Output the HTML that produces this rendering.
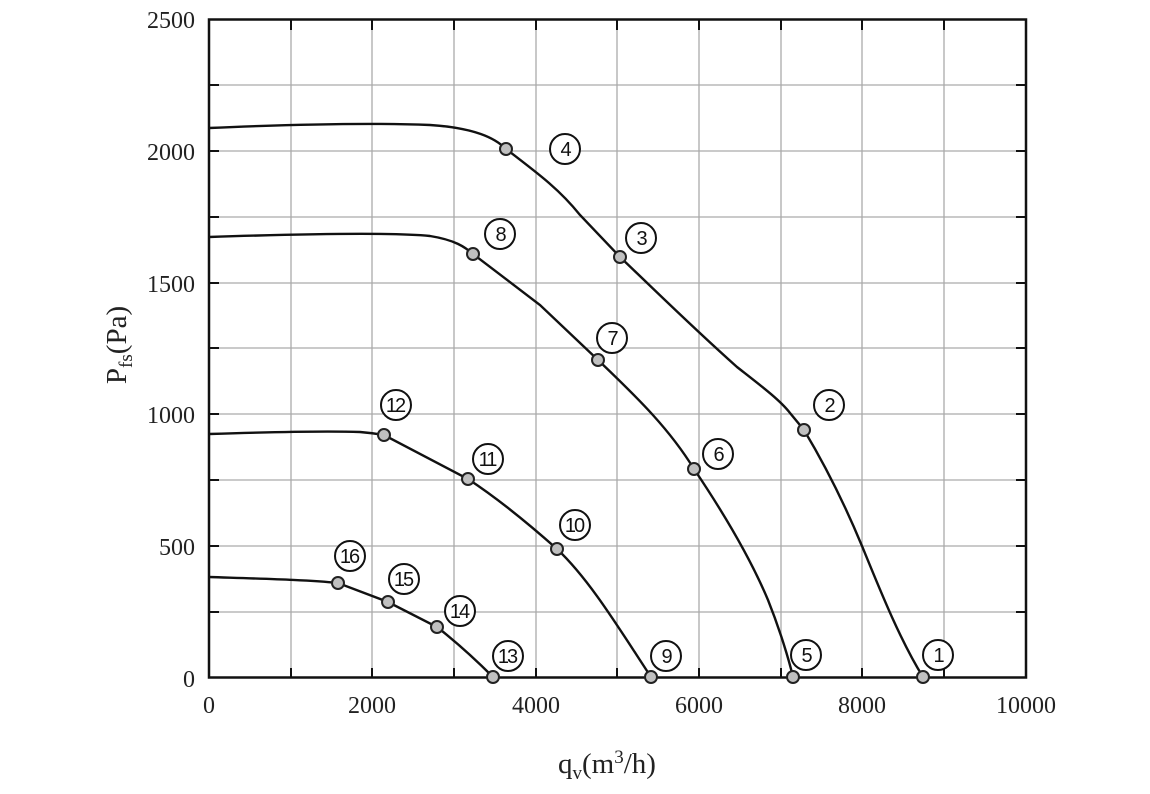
<!DOCTYPE html>
<html><head><style>body{margin:0;background:#fff}</style></head><body>
<svg width="1150" height="789" xmlns="http://www.w3.org/2000/svg" font-family="Liberation Serif, serif">
<rect width="1150" height="789" fill="#fff"/>
<g stroke="#aaa" stroke-width="1.3">
<line x1="291" y1="19" x2="291" y2="678"/><line x1="372" y1="19" x2="372" y2="678"/><line x1="454" y1="19" x2="454" y2="678"/><line x1="536" y1="19" x2="536" y2="678"/><line x1="617" y1="19" x2="617" y2="678"/><line x1="699" y1="19" x2="699" y2="678"/><line x1="781" y1="19" x2="781" y2="678"/><line x1="862" y1="19" x2="862" y2="678"/><line x1="944" y1="19" x2="944" y2="678"/>
<line x1="209" y1="85" x2="1026" y2="85"/><line x1="209" y1="151" x2="1026" y2="151"/><line x1="209" y1="217" x2="1026" y2="217"/><line x1="209" y1="283" x2="1026" y2="283"/><line x1="209" y1="348" x2="1026" y2="348"/><line x1="209" y1="414" x2="1026" y2="414"/><line x1="209" y1="480" x2="1026" y2="480"/><line x1="209" y1="546" x2="1026" y2="546"/><line x1="209" y1="612" x2="1026" y2="612"/>
</g>
<rect x="209" y="19.5" width="817" height="658" fill="none" stroke="#111" stroke-width="2.5"/>
<g stroke="#111" stroke-width="2">
<path d="M291 678v-10M372 678v-10M454 678v-10M536 678v-10M617 678v-10M699 678v-10M781 678v-10M862 678v-10M944 678v-10M291 20v10M372 20v10M454 20v10M536 20v10M617 20v10M699 20v10M781 20v10M862 20v10M944 20v10M209 85h10M209 151h10M209 217h10M209 283h10M209 348h10M209 414h10M209 480h10M209 546h10M209 612h10M1026 85h-10M1026 151h-10M1026 217h-10M1026 283h-10M1026 348h-10M1026 414h-10M1026 480h-10M1026 546h-10M1026 612h-10"/>
</g>
<g fill="none" stroke="#111" stroke-width="2.4">
<path d="M209 128 C300 124 380 123 430 125 C475 128 495 138 506 149 C540 175 560 190 580 215 L620 257 C660 295 690 325 737 367 C760 385 780 400 790 413 L804 430 C825 465 845 505 862 546 C880 590 900 640 923 677"/>
<path d="M209 237 C300 234 390 232 430 236 C455 240 465 247 473 254 L540 305 L598 360 C640 400 670 430 694 469 C725 515 752 562 768 600 C780 630 789 660 793 677"/>
<path d="M209 434 C270 432 330 431 360 432 C372 433 378 434 384 435 L468 479 C500 500 530 525 557 549 C590 580 620 630 651 677"/>
<path d="M209 577 C270 579 310 580 338 583 L388 602 L437 627 C460 645 478 662 493 677"/>
</g>
<g fill="#c0c0c0" stroke="#222" stroke-width="2">
<circle cx="506" cy="149" r="6"/><circle cx="620" cy="257" r="6"/><circle cx="804" cy="430" r="6"/><circle cx="923" cy="677" r="6"/>
<circle cx="473" cy="254" r="6"/><circle cx="598" cy="360" r="6"/><circle cx="694" cy="469" r="6"/><circle cx="793" cy="677" r="6"/>
<circle cx="384" cy="435" r="6"/><circle cx="468" cy="479" r="6"/><circle cx="557" cy="549" r="6"/><circle cx="651" cy="677" r="6"/>
<circle cx="338" cy="583" r="6"/><circle cx="388" cy="602" r="6"/><circle cx="437" cy="627" r="6"/><circle cx="493" cy="677" r="6"/>
</g>
<g fill="#fff" stroke="#111" stroke-width="2">
<circle cx="565" cy="149" r="15"/><circle cx="641" cy="238" r="15"/><circle cx="829" cy="405" r="15"/><circle cx="938" cy="655" r="15"/>
<circle cx="500" cy="234" r="15"/><circle cx="612" cy="338" r="15"/><circle cx="718" cy="454" r="15"/><circle cx="806" cy="655" r="15"/>
<circle cx="396" cy="405" r="15"/><circle cx="488" cy="459" r="15"/><circle cx="575" cy="525" r="15"/><circle cx="666" cy="656" r="15"/>
<circle cx="350" cy="556" r="15"/><circle cx="404" cy="579" r="15"/><circle cx="460" cy="611" r="15"/><circle cx="508" cy="656" r="15"/>
</g>
<g font-family="Liberation Sans, sans-serif" font-size="20" text-anchor="middle" fill="#111" letter-spacing="-2">
<text x="565" y="156">4</text><text x="641" y="245">3</text><text x="829" y="412">2</text><text x="938" y="662">1</text>
<text x="500" y="241">8</text><text x="612" y="345">7</text><text x="718" y="461">6</text><text x="806" y="662">5</text>
<text x="395" y="412">12</text><text x="487" y="466">11</text><text x="574" y="532">10</text><text x="666" y="663">9</text>
<text x="349" y="563">16</text><text x="403" y="586">15</text><text x="459" y="618">14</text><text x="507" y="663">13</text>
</g>
<g font-size="24" fill="#222" text-anchor="end">
<text x="195" y="28">2500</text><text x="195" y="160">2000</text><text x="195" y="292">1500</text><text x="195" y="423">1000</text><text x="195" y="555">500</text><text x="195" y="687">0</text>
</g>
<g font-size="24" fill="#222" text-anchor="middle">
<text x="209" y="713">0</text><text x="372" y="713">2000</text><text x="536" y="713">4000</text><text x="699" y="713">6000</text><text x="862" y="713">8000</text><text x="1026" y="713">10000</text>
</g>
<text x="558" y="773" font-size="29" fill="#222">q<tspan font-size="19" dy="6">v</tspan><tspan dy="-6">(m</tspan><tspan font-size="19" dy="-10">3</tspan><tspan dy="10">/h)</tspan></text>
<text transform="translate(126,345) rotate(-90)" text-anchor="middle" font-size="29" fill="#222">P<tspan font-size="19" dy="6">fs</tspan><tspan dy="-6">(Pa)</tspan></text>
</svg>
</body></html>
